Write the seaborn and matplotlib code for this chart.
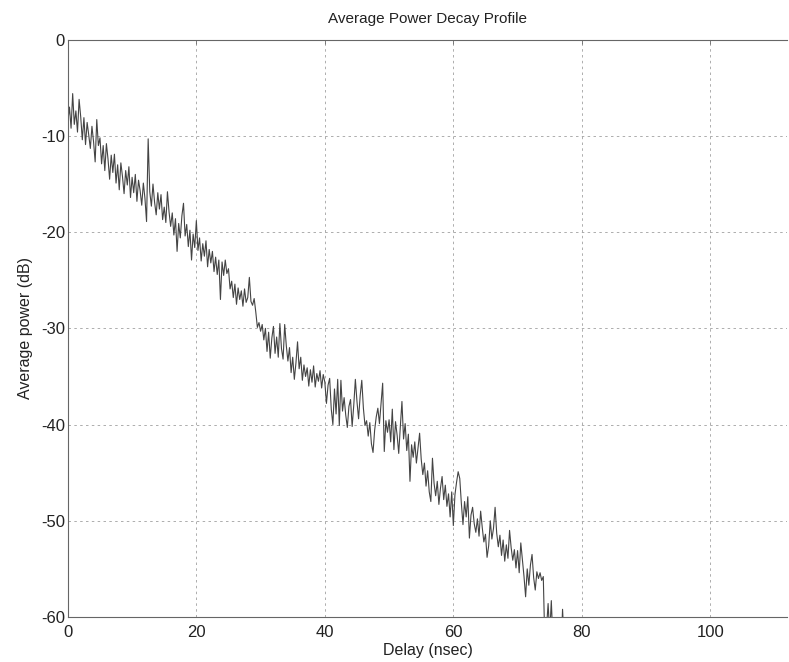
import numpy as np
import pandas as pd
import matplotlib
matplotlib.use("Agg")
from matplotlib import pyplot as plt
import seaborn as sns

# average power (dB), one sample every 0.25 nsec starting at 0
power_db = [
    -8.5, -7.0, -9.2, -5.6, -8.8, -7.4, -9.6, -6.2, -8.0, -10.4,
    -8.1, -10.9, -8.6, -9.9, -11.3, -9.0, -10.6, -12.7, -8.3, -11.0,
    -10.2, -12.9, -11.0, -13.6, -10.8, -12.4, -14.5, -12.0, -13.8, -11.9,
    -14.9, -13.0, -15.6, -12.8, -14.2, -16.0, -13.6, -15.1, -13.2, -16.4,
    -14.3, -15.9, -14.0, -16.8, -14.6, -15.7, -17.2, -14.9, -16.5, -18.9,
    -10.3, -15.8, -17.3, -15.0, -16.9, -18.2, -15.9, -17.6, -16.1, -18.7,
    -17.4, -19.0, -15.8, -17.9, -19.4, -18.0, -20.3, -18.6, -22.0, -19.1,
    -20.6, -18.3, -17.0, -20.4, -19.2, -21.5, -19.8, -22.9, -20.2, -21.6,
    -18.8, -21.9, -20.6, -23.0, -21.2, -22.5, -20.9, -23.6, -21.8, -23.2,
    -22.0, -24.1, -22.6, -24.4, -22.9, -27.0, -23.1, -24.5, -22.9, -24.3,
    -23.8, -25.9, -25.1, -26.8, -25.4, -27.5, -25.8, -27.0, -26.1, -27.7,
    -25.9, -27.3, -26.8, -24.7, -27.2, -27.6, -26.9, -28.3, -29.9, -29.4,
    -30.3, -29.6, -31.2, -30.0, -32.4, -30.4, -33.1, -31.0, -29.8, -32.6,
    -30.9, -33.0, -29.5, -32.1, -33.2, -29.6, -31.8, -33.4, -32.0, -34.6,
    -33.0, -35.3, -33.6, -31.4, -34.2, -33.0, -35.4, -33.8, -35.0, -34.1,
    -36.0, -34.3, -35.6, -33.9, -36.1, -34.7, -35.5, -34.4, -36.2, -34.8,
    -35.6, -37.8, -35.9, -35.2, -38.4, -40.0, -36.3, -38.9, -35.3, -40.1,
    -35.4, -38.6, -37.2, -39.0, -40.3, -38.1, -37.4, -40.2, -38.0, -35.3,
    -37.6, -39.4, -37.0, -35.4, -38.3, -40.1, -39.6, -41.2, -39.8, -42.0,
    -42.9, -40.6, -39.2, -38.3, -39.9, -37.8, -35.7, -42.8, -39.6, -40.8,
    -39.5, -41.8, -38.4, -42.6, -39.7, -41.1, -43.0, -40.2, -37.6, -41.5,
    -39.9, -42.7, -41.0, -45.9, -42.1, -43.4, -41.8, -44.0, -42.5, -40.9,
    -43.6, -45.2, -44.0, -46.4, -44.8, -47.0, -48.0, -43.5, -46.1, -47.4,
    -45.9, -48.3, -46.6, -45.4, -47.8, -46.3, -48.5, -47.2, -49.6, -47.0,
    -50.5, -47.3, -46.0, -44.9, -45.6, -48.2, -50.4, -48.0, -49.6, -47.5,
    -51.8, -49.4, -48.6, -50.3, -51.2, -49.8, -51.6, -49.0, -50.7, -52.2,
    -51.4, -53.8, -52.6, -50.0, -51.9, -50.8, -48.6, -51.3, -52.7, -51.5,
    -53.6, -52.0, -54.2, -52.5, -53.9, -51.0, -52.8, -54.1, -53.0, -54.9,
    -53.1, -55.4, -52.3, -54.0, -55.8, -57.9, -55.0, -56.7, -54.6, -53.5,
    -55.9, -57.2, -55.3, -56.0, -55.4, -56.2, -55.8, -63.0, -61.2, -58.6,
    -61.8, -58.3, -62.5, -60.9, -63.4, -62.0, -61.0, -63.5, -59.2, -62.8,
    -64.0, -63.0,
]
delay_ns = np.arange(len(power_db)) * 0.25

x_ticks = [0, 20, 40, 60, 80, 100]
y_ticks = [-60, -50, -40, -30, -20, -10, 0]

df = pd.DataFrame({"Delay": delay_ns, "Power": power_db})

sns.set_theme(style="white")
plt.rcParams["font.family"] = ["Liberation Sans", "DejaVu Sans"]
plt.rcParams["axes.unicode_minus"] = False

fig = plt.figure(figsize=(7.89, 6.62), dpi=100)
ax = fig.add_axes([0.086, 0.068, 0.912, 0.872])

sns.lineplot(data=df, x="Delay", y="Power", ax=ax, color="#444444",
             linewidth=0.8, estimator=None, sort=False)

ax.set_xlim(0, 112)
ax.set_ylim(-60, 0)
ax.set_xticks(x_ticks)
ax.set_yticks(y_ticks)
ax.grid(True, color="#a0a0a0", linestyle=(0, (3, 4)), linewidth=0.6)
ax.tick_params(direction="in", length=3, width=0.6, top=True, right=False,
               labelsize=12, colors="#666666", labelcolor="#222222", pad=2)
ax.tick_params(axis="x", pad=6)
for side in ["left", "bottom", "top"]:
    ax.spines[side].set_color("#666666")
    ax.spines[side].set_linewidth(0.8)
ax.spines["right"].set_visible(False)

ax.set_title("Average Power Decay Profile", fontsize=11, color="#222222", pad=12)
ax.set_xlabel("Delay (nsec)", fontsize=11.5, color="#222222", labelpad=2)
ax.set_ylabel("Average power (dB)", fontsize=11.5, color="#222222", labelpad=6)

fig.savefig("out.png", dpi=100)
